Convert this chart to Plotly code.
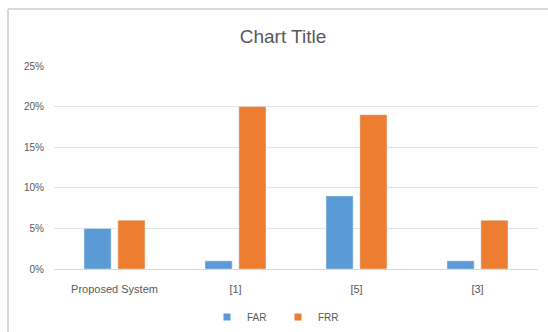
import plotly.graph_objects as go

categories = ["Proposed System", "[1]", "[5]", "[3]"]
far_values = [5, 1, 9, 1]
frr_values = [6, 20, 19, 6]
y_ticks = [0, 5, 10, 15, 20, 25]
y_tick_labels = ["0%", "5%", "10%", "15%", "20%", "25%"]

W, H = 548, 332
ML, MR, MT, MB = 54, 10, 66, 63
PW = W - ML - MR
PH = H - MT - MB

def px_x(p):
    return (p - ML) / PW

def px_y(p):
    return (H - MB - p) / PH

font_family = "Liberation Sans, Arial, sans-serif"
gray = "#595959"
blue = "#5B9BD5"
orange = "#ED7D31"

fig = go.Figure()
fig.add_trace(go.Bar(name="FAR", x=categories, y=far_values, marker_color=blue, showlegend=False))
fig.add_trace(go.Bar(name="FRR", x=categories, y=frr_values, marker_color=orange, showlegend=False))
# legend entries with small square markers
fig.add_trace(go.Scatter(name="FAR", x=[None], y=[None], mode="markers",
                         marker=dict(symbol="square", size=7, color=blue)))
fig.add_trace(go.Scatter(name="FRR", x=[None], y=[None], mode="markers",
                         marker=dict(symbol="square", size=7, color=orange)))

fig.update_layout(
    width=W, height=H,
    margin=dict(l=ML, r=MR, t=MT, b=MB, autoexpand=False),
    paper_bgcolor="white", plot_bgcolor="white",
    barmode="group", bargap=0.44, bargroupgap=0.2,
    font=dict(family=font_family, color=gray, size=10),
    title=dict(text="Chart Title", x=283 / W, xanchor="center",
               y=1 - 36 / H, yanchor="middle", yref="container",
               font=dict(family=font_family, size=19, color=gray)),
    showlegend=True,
    legend=dict(orientation="h", x=px_x(278), xanchor="center", y=px_y(317), yanchor="middle",
                font=dict(size=10, color=gray), itemwidth=30, traceorder="normal",
                entrywidth=26, entrywidthmode="pixels"),
    xaxis=dict(showgrid=False, showline=True, linecolor="#D9D9D9", linewidth=1,
               ticks="", ticklabelstandoff=10, tickfont=dict(size=11, color=gray)),
    yaxis=dict(range=[0, 25], tickvals=y_ticks, ticktext=y_tick_labels,
               showgrid=True, gridcolor="#E4E4E4", gridwidth=1, zeroline=False,
               showline=False, ticks="", ticklabelstandoff=9,
               tickfont=dict(size=10, color=gray)),
    shapes=[
        dict(type="line", xref="paper", yref="paper", x0=px_x(8), x1=px_x(8),
             y0=px_y(9), y1=px_y(H + 5), line=dict(color="#D9D9D9", width=2)),
        dict(type="line", xref="paper", yref="paper", x0=px_x(8), x1=px_x(W + 5),
             y0=px_y(9), y1=px_y(9), line=dict(color="#D9D9D9", width=2)),
    ],
)

fig.write_html("out.html")
